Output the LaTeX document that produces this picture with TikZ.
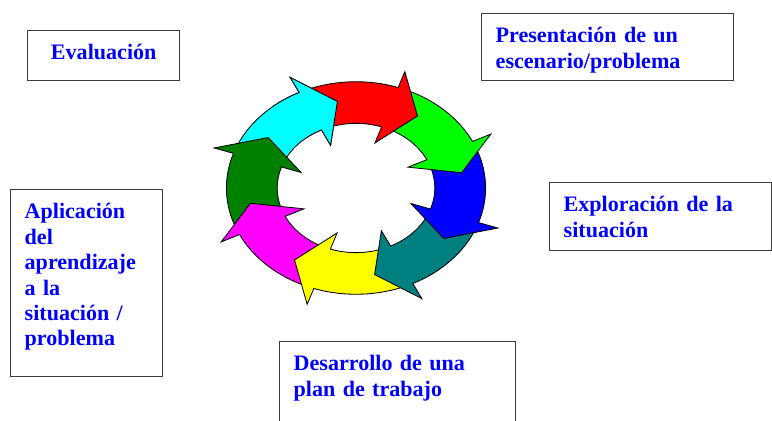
\documentclass[tikz,border=0pt]{standalone}
\usepackage{fontspec}
\setmainfont{Liberation Serif}
\definecolor{darkgreen}{RGB}{0,128,0}
\definecolor{ringcyan}{RGB}{0,255,255}
\definecolor{ringmagenta}{RGB}{255,0,255}
\definecolor{ringyellow}{RGB}{255,255,0}
\definecolor{ringteal}{RGB}{0,128,128}
\definecolor{ringgreen}{RGB}{0,255,0}
\definecolor{ringblue}{RGB}{0,0,255}
\definecolor{ringred}{RGB}{255,0,0}
\definecolor{boxline}{RGB}{60,60,60}

\begin{document}
\begin{tikzpicture}
\tikzstyle{stage}=[draw=boxline,line width=1pt,anchor=north west,align=left,text=ringblue,
  font=\fontsize{15.7}{18.1}\selectfont\bfseries,inner xsep=0.35cm,inner ysep=0.35cm,text height=0.375cm]
\tikzstyle{ring}=[draw=black,line width=0.6pt]
\clip (0,0) rectangle (19.3,10.5);
\node[stage,align=center,text width=3.1cm,text depth=0.175cm] (eval) at (0.675,9.75) {Evaluación};
\node[stage,text width=5.6cm,text depth=0.6cm] (present) at (12.025,10.175) {Presentación de un\\escenario/problema};
\node[stage,text width=4.85cm,text depth=0.625cm] (explore) at (13.725,5.95) {Exploración de la\\situación};
\node[stage,text width=5.2cm,text depth=2cm] (plan) at (6.975,1.975) {Desarrollo de una\\plan de trabajo};
\node[stage,text width=3.1cm,text depth=3.6cm] (apply) at (0.25,5.775) {Aplicación\\del\\aprendizaje\\a la\\situación /\\problema};
\begin{scope}[shift={(8.9,5.8)},yscale=0.82]
\foreach \t/\c in {100/ringcyan,145/darkgreen,190/ringmagenta,235/ringyellow,280/ringteal,325/ringblue,370/ringgreen,415/ringred}
  \filldraw[ring,fill=\c] ({\t+58}:3.24) arc[start angle=\t+58,end angle=\t+16,radius=3.24]
    -- ({\t+16}:3.75) -- (\t:2.68) -- ({\t+16}:1.45) -- ({\t+16}:1.97)
    arc[start angle=\t+16,end angle=\t+58,radius=1.97] -- cycle;
\clip (0,0) -- (97:5) -- (130:5) -- cycle;
\filldraw[ring,fill=ringcyan] (158:3.24) arc[start angle=158,end angle=116,radius=3.24]
  -- (116:3.75) -- (100:2.68) -- (116:1.45) -- (116:1.97)
  arc[start angle=116,end angle=158,radius=1.97] -- cycle;
\end{scope}
\end{tikzpicture}
\end{document}
